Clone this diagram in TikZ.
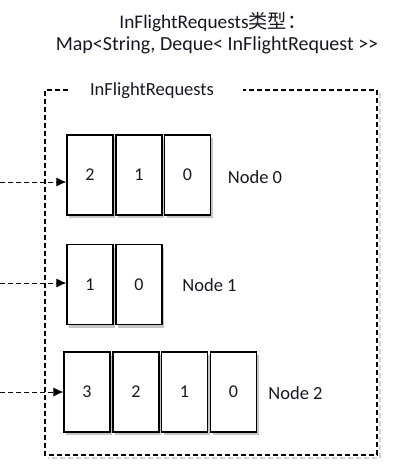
\documentclass[tikz,border=0pt]{standalone}
\usepackage{fontspec}
\setmainfont[Ligatures=NoCommon]{Carlito}
\newfontfamily\cjk{Noto Sans CJK SC}
\usetikzlibrary{arrows.meta,shadows}
\definecolor{txt}{RGB}{25,22,35}
\tikzset{
  cell/.style={draw=black, line width=1.2pt, fill=white, minimum width=46pt, minimum height=80pt, inner sep=0pt,
    font=\fontsize{18}{22}\selectfont, text=txt,
    drop shadow={shadow xshift=2pt, shadow yshift=-3pt, opacity=0.45, fill=gray}},
  lab/.style={font=\fontsize{18.5}{22}\selectfont, text=txt, inner sep=0pt},
  frame/.style={line width=1.2pt, dash pattern=on 5pt off 3pt},
  feed/.style={line width=1pt, dash pattern=on 5pt off 3pt, -{Latex[length=10pt,width=9pt]}},
}
\begin{document}
\begin{tikzpicture}[x=1pt,y=-1pt]
\useasboundingbox (0,0) rectangle (418,474);
% title
\node[lab, font=\fontsize{19.3}{23}\selectfont] (t1) at (213,22) {InFlightRequests{\cjk 类型：}};
\node[lab, font=\fontsize{20}{24}\selectfont] (t2) at (217,45) {Map<String, Deque< InFlightRequest >{}>};
% frame
\node[lab] (fl) at (152,91) {InFlightRequests};
\draw[frame, gray!60, opacity=0.6] (380,93) -- (380,458) -- (48,458);
\draw[frame] (68,90) -- (45,90) -- (45,455) -- (377,455) -- (377,90) -- (243,90);
% Node 0
\node[cell] (a2) at (90,175) {2};
\node[cell] (a1) at (139,175) {1};
\node[cell] (a0) at (187.5,175) {0};
\node[lab] (la) at (255,177) {Node 0};
% Node 1
\node[cell] (b1) at (90,284.5) {1};
\node[cell] (b0) at (139,284.5) {0};
\node[lab] (lb) at (209.5,285) {Node 1};
% Node 2
\node[cell] (c3) at (87,392) {3};
\node[cell] (c2) at (136,392) {2};
\node[cell] (c1) at (184.5,392) {1};
\node[cell] (c0) at (233.5,392) {0};
\node[lab] (lc) at (295.5,393) {Node 2};
% arrows
\coordinate (sa) at (0,182);
\coordinate (sb) at (0,283);
\coordinate (sc) at (0,392);
\draw[feed] (sa) -- (sa -| a2.west);
\draw[feed] (sb) -- (sb -| b1.west);
\draw[feed] (sc) -- (sc -| c3.west);
\end{tikzpicture}
\end{document}
